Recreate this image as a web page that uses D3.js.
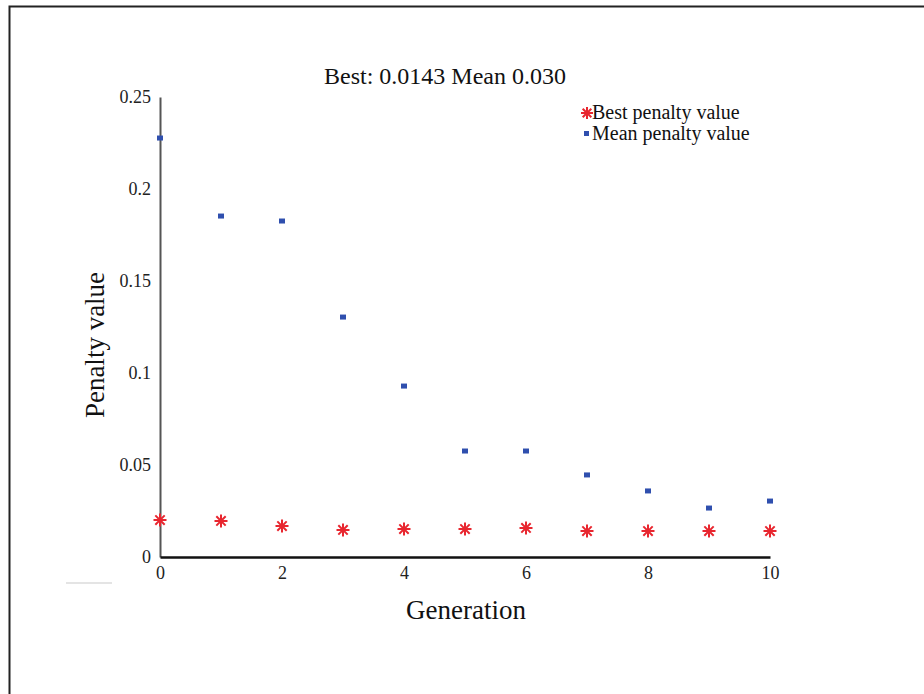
<!DOCTYPE html>
<html>
<head>
<meta charset="utf-8">
<script src="https://cdn.jsdelivr.net/npm/d3@7"></script>
<style>
  body { margin: 0; background: #fff; }
  text { font-family: "Liberation Serif", "DejaVu Serif", serif; }
</style>
</head>
<body>
<div id="display"></div>
<script>
// data
const generations = [0, 1, 2, 3, 4, 5, 6, 7, 8, 9, 10];
const bestPenalty = [0.0201, 0.0196, 0.0168, 0.0147, 0.0152, 0.0152, 0.0158, 0.0141, 0.0141, 0.0141, 0.0141];
const meanPenalty = [0.2277, 0.1853, 0.1826, 0.1304, 0.0929, 0.0576, 0.0576, 0.0446, 0.0359, 0.0266, 0.0304];
const xTicks = [0, 2, 4, 6, 8, 10];
const yTicks = [0, 0.05, 0.1, 0.15, 0.2, 0.25];
const legendLabels = ["Best penalty value", "Mean penalty value"];
const titleText = "Best: 0.0143 Mean 0.030";

const svg = d3.select('#display')
  .append('svg')
  .attr('width', 924)
  .attr('height', 694);

// frame (top and left edges only)
svg.append('path')
  .attr('d', 'M9.5,694 L9.5,6.5 L924,6.5')
  .attr('fill', 'none')
  .attr('stroke', '#222')
  .attr('stroke-width', 2);

const x = d3.scaleLinear().domain([0, 10]).range([160, 770]);
const y = d3.scaleLinear().domain([0, 0.25]).range([557, 97]);

// y axis
const yAxis = svg.append('g')
  .attr('transform', `translate(${x(0)},0)`)
  .call(d3.axisLeft(y).tickValues(yTicks).tickSize(0).tickPadding(9)
    .tickFormat(d => d === 0 ? '0' : String(+d.toFixed(2))));
yAxis.select('.domain').attr('stroke', '#555').attr('stroke-width', 2);
yAxis.selectAll('text').attr('font-size', 18).attr('fill', '#222')
  .style('font-family', '"Liberation Serif", serif');

// x axis
const xAxis = svg.append('g')
  .attr('transform', `translate(0,${y(0)})`)
  .call(d3.axisBottom(x).tickValues(xTicks).tickSize(0).tickPadding(9));
xAxis.select('.domain').attr('stroke', '#111').attr('stroke-width', 2.5);
xAxis.selectAll('text').attr('font-size', 18).attr('fill', '#222')
  .style('font-family', '"Liberation Serif", serif');

// title and axis labels
svg.append('text')
  .attr('x', 445).attr('y', 84)
  .attr('text-anchor', 'middle')
  .attr('font-size', 24)
  .attr('fill', '#111')
  .text(titleText);

svg.append('text')
  .attr('x', 466).attr('y', 619)
  .attr('text-anchor', 'middle')
  .attr('font-size', 27)
  .attr('fill', '#111')
  .text('Generation');

svg.append('text')
  .attr('transform', 'translate(104,345) rotate(-90)')
  .attr('text-anchor', 'middle')
  .attr('font-size', 27)
  .attr('fill', '#111')
  .text('Penalty value');

// faint leftover mark below the plot
svg.append('line')
  .attr('x1', 66).attr('x2', 112)
  .attr('y1', 583).attr('y2', 583)
  .attr('stroke', '#e4e4e4').attr('stroke-width', 2);

// asterisk marker path
function asterisk(r) {
  const d = r * 0.72;
  return `M${-r},0L${r},0M0,${-r}L0,${r}M${-d},${-d}L${d},${d}M${-d},${d}L${d},${-d}`;
}

const red = '#e8262f';
const blue = '#2f4fae';

svg.append('g').selectAll('path')
  .data(generations)
  .join('path')
  .attr('transform', (d, i) => `translate(${x(d)},${y(bestPenalty[i])})`)
  .attr('d', asterisk(6.5))
  .attr('fill', 'none')
  .attr('stroke', red)
  .attr('stroke-width', 2);

svg.append('g').selectAll('rect')
  .data(generations)
  .join('rect')
  .attr('x', d => x(d) - 3)
  .attr('y', (d, i) => y(meanPenalty[i]) - 2.5)
  .attr('width', 6)
  .attr('height', 5)
  .attr('fill', blue);

// legend
const legend = svg.append('g');
legend.append('path')
  .attr('transform', 'translate(587,113)')
  .attr('d', asterisk(6))
  .attr('fill', 'none')
  .attr('stroke', red)
  .attr('stroke-width', 2);
legend.append('rect')
  .attr('x', 584).attr('y', 131)
  .attr('width', 5).attr('height', 5)
  .attr('fill', blue);
legend.selectAll('text')
  .data(legendLabels)
  .join('text')
  .attr('x', 592)
  .attr('y', (d, i) => 119 + i * 21)
  .attr('font-size', 20)
  .attr('fill', '#111')
  .text(d => d);
</script>
</body>
</html>
